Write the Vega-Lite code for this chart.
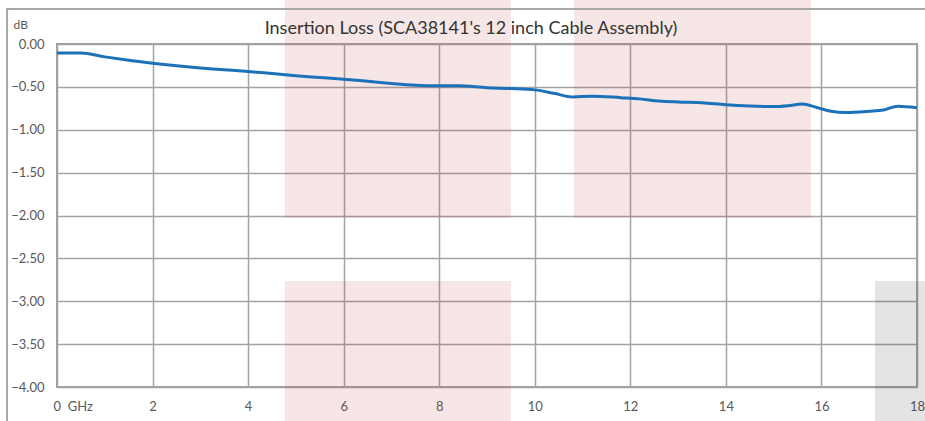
{
  "$schema": "https://vega.github.io/schema/vega-lite/v6.json",
  "width": 860,
  "height": 343,
  "autosize": {"type": "none"},
  "padding": {"left": 57, "top": 44, "right": 8, "bottom": 34},
  "background": "white",
  "title": {
    "text": "Insertion Loss (SCA38141's 12 inch Cable Assembly)",
    "font": "Lato",
    "fontSize": 18,
    "fontWeight": "normal",
    "color": "#333333",
    "anchor": "middle",
    "frame": "group",
    "baseline": "alphabetic",
    "offset": -53,
    "dx": -16
  },
  "config": {
    "view": {"stroke": "#a0a0a0", "strokeWidth": 2},
    "axis": {
      "labelFont": "Lato",
      "labelFontSize": 13,
      "labelColor": "#595959",
      "domain": false,
      "ticks": false,
      "gridColor": "#a3a3a3",
      "gridWidth": 1.5,
      "gridOpacity": 1
    }
  },
  "datasets": {
    "loss": [
      {"f": 0, "db": -0.105}, {"f": 0.5, "db": -0.105}, {"f": 1.0, "db": -0.15},
      {"f": 1.5, "db": -0.19}, {"f": 2, "db": -0.225}, {"f": 2.5, "db": -0.255},
      {"f": 3, "db": -0.28}, {"f": 3.5, "db": -0.30}, {"f": 4, "db": -0.32},
      {"f": 4.5, "db": -0.345}, {"f": 5, "db": -0.37}, {"f": 5.5, "db": -0.39},
      {"f": 6, "db": -0.41}, {"f": 6.5, "db": -0.435}, {"f": 7, "db": -0.46},
      {"f": 7.5, "db": -0.48}, {"f": 8, "db": -0.487}, {"f": 8.4, "db": -0.487},
      {"f": 9, "db": -0.51}, {"f": 9.5, "db": -0.52}, {"f": 10, "db": -0.535},
      {"f": 10.4, "db": -0.575}, {"f": 10.8, "db": -0.618}, {"f": 11.2, "db": -0.608},
      {"f": 11.8, "db": -0.626}, {"f": 12.2, "db": -0.64}, {"f": 12.6, "db": -0.665},
      {"f": 13, "db": -0.676}, {"f": 13.5, "db": -0.685}, {"f": 14, "db": -0.708},
      {"f": 14.5, "db": -0.723}, {"f": 15, "db": -0.73}, {"f": 15.3, "db": -0.72},
      {"f": 15.6, "db": -0.70}, {"f": 15.9, "db": -0.74}, {"f": 16.2, "db": -0.785},
      {"f": 16.5, "db": -0.80}, {"f": 17, "db": -0.785}, {"f": 17.3, "db": -0.77},
      {"f": 17.6, "db": -0.725}, {"f": 18, "db": -0.743}
    ],
    "blocks": [
      {"x1": 4.77, "x2": 9.5, "y1": 0.52, "y2": -2.03, "kind": "pink"},
      {"x1": 10.82, "x2": 15.78, "y1": 0.52, "y2": -2.03, "kind": "pink"},
      {"x1": 4.77, "x2": 9.5, "y1": -2.764, "y2": -4.5, "kind": "pink"},
      {"x1": 17.12, "x2": 18.5, "y1": -2.764, "y2": -4.5, "kind": "gray"}
    ],
    "frame": [
      {"x1": -1.046, "x2": 20, "y1": 0.408, "y2": -5}
    ]
  },
  "layer": [
    {
      "data": {"name": "blocks"},
      "mark": {"type": "rect", "clip": false, "opacity": 0.12},
      "encoding": {
        "x": {"field": "x1", "type": "quantitative", "scale": {"domain": [0, 18], "nice": false, "zero": false}},
        "x2": {"field": "x2"},
        "y": {"field": "y1", "type": "quantitative", "scale": {"domain": [-4, 0], "nice": false, "zero": false}},
        "y2": {"field": "y2"},
        "color": {"field": "kind", "type": "nominal", "scale": {"domain": ["pink", "gray"], "range": ["#b43232", "#222222"]}, "legend": null}
      }
    },
    {
      "data": {"name": "frame"},
      "mark": {"type": "rect", "clip": false, "fill": null, "fillOpacity": 0, "stroke": "#a8a8a8", "strokeWidth": 2},
      "encoding": {
        "x": {"field": "x1", "type": "quantitative"},
        "x2": {"field": "x2"},
        "y": {"field": "y1", "type": "quantitative"},
        "y2": {"field": "y2"}
      }
    },
    {
      "data": {"name": "loss"},
      "mark": {"type": "line", "interpolate": "monotone", "color": "#1b72b9", "strokeWidth": 3},
      "encoding": {
        "x": {
          "field": "f", "type": "quantitative",
          "axis": {
            "title": null,
            "values": [0, 2, 4, 6, 8, 10, 12, 14, 16, 18],
            "labelExpr": "datum.value == 0 ? '0\u00a0\u00a0GHz' : datum.label",
            "labelAlign": {"expr": "datum.value == 0 ? 'left' : 'center'"},
            "labelOffset": {"expr": "datum.value == 0 ? -4 : 0"},
            "labelPadding": 13,
            "labelFlush": false,
            "labelOverlap": false,
            "grid": true
          }
        },
        "y": {
          "field": "db", "type": "quantitative",
          "axis": {
            "title": "dB",
            "titleAngle": 0,
            "titleAlign": "left",
            "titleBaseline": "middle",
            "titleX": -44,
            "titleY": -20,
            "titleFont": "Lato",
            "titleFontSize": 12,
            "titleFontWeight": "normal",
            "titleColor": "#595959",
            "values": [0, -0.5, -1, -1.5, -2, -2.5, -3, -3.5, -4],
            "format": ".2f",
            "labelPadding": 13,
            "labelFlush": false,
            "labelOverlap": false,
            "grid": true
          }
        }
      }
    }
  ]
}
